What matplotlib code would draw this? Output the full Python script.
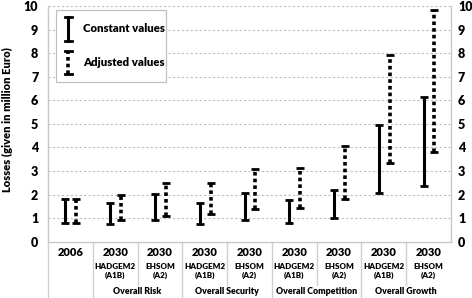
import matplotlib
matplotlib.use("Agg")
import matplotlib.pyplot as plt
from matplotlib.patches import Rectangle
from matplotlib.lines import Line2D
from matplotlib.transforms import blended_transform_factory

plt.rcParams['font.family'] = ['Lato', 'DejaVu Sans']
plt.rcParams['font.weight'] = 'heavy'
W = 'heavy'

years = ["2006", "2030", "2030", "2030", "2030", "2030", "2030", "2030", "2030"]
models = ["", "HADGEM2\n(A1B)", "EHSOM\n(A2)", "HADGEM2\n(A1B)", "EHSOM\n(A2)",
          "HADGEM2\n(A1B)", "EHSOM\n(A2)", "HADGEM2\n(A1B)", "EHSOM\n(A2)"]
groups = ["Overall Risk", "Overall Security", "Overall Competition", "Overall Growth"]

const_low = [0.81, 0.75, 0.91, 0.75, 0.92, 0.81, 1.01, 2.06, 2.38]
const_high = [1.82, 1.66, 2.04, 1.66, 2.06, 1.75, 2.21, 4.94, 6.13]
adj_low = [0.81, 0.91, 1.11, 1.16, 1.39, 1.42, 1.80, 3.34, 3.79]
adj_high = [1.82, 2.00, 2.47, 2.47, 3.09, 3.13, 4.04, 7.90, 9.83]

yticks = list(range(0, 11))

fig = plt.figure(figsize=(4.72, 2.98), dpi=100)
ax = fig.add_axes([0.1017, 0.189, 0.8538, 0.791])

n = len(years)
xs = list(range(n))
off_c = -0.11
off_a = 0.13
xc = [x + off_c for x in xs]
xa = [x + off_a for x in xs]

# constant values (solid)
ax.vlines(xc, const_low, const_high, colors='black', linewidth=2.2, zorder=3)
ax.plot(xc, const_low, linestyle='none', marker='_', markersize=6, mew=2.0, color='black', zorder=3)
ax.plot(xc, const_high, linestyle='none', marker='_', markersize=6, mew=2.0, color='black', zorder=3)
# adjusted values (dotted)
ax.vlines(xa, adj_low, adj_high, colors='black', linewidth=2.6, linestyles=[(0, (1.0, 0.85))], zorder=3)
ax.plot(xa, adj_low, linestyle='none', marker='_', markersize=6, mew=2.0, color='black', zorder=3)
ax.plot(xa, adj_high, linestyle='none', marker='_', markersize=6, mew=2.0, color='black', zorder=3)

ax.set_xlim(-0.5, n - 0.5)
ax.set_ylim(0, 10)
ax.set_yticks(yticks)
ax.set_yticklabels([str(t) for t in yticks], fontsize=9, fontweight=W)
ax.tick_params(axis='y', length=0, pad=7)
ax.set_xticks([])
for t in yticks[1:]:
    ax.axhline(t, color='#bdbdbd', linewidth=0.8, linestyle=(0, (2, 2)), zorder=1)
for s in ['left', 'right', 'bottom']:
    ax.spines[s].set_color('#c8c8c8')
    ax.spines[s].set_linewidth(1.0)
ax.spines['top'].set_visible(False)

ax2 = ax.twinx()
ax2.set_ylim(0, 10)
ax2.set_yticks(yticks)
ax2.set_yticklabels([str(t) for t in yticks], fontsize=9, fontweight=W)
ax2.tick_params(axis='y', length=0, pad=5)
for s in ax2.spines.values():
    s.set_visible(False)

ax.set_ylabel("Losses (given in million Euro)", fontsize=8, fontweight=W)
ax.yaxis.set_label_coords(-0.088, 0.52)

# category labels
tr = blended_transform_factory(ax.transData, ax.transAxes)
for x, yl, ml in zip(xs, years, models):
    ax.text(x, -0.045, yl, transform=tr, ha='center', va='center', fontsize=8, fontweight=W)
    if ml:
        ax.text(x, -0.125, ml, transform=tr, ha='center', va='center', fontsize=5.8,
                fontweight=W, linespacing=1.25)
for gi, g in enumerate(groups):
    ax.text(1.5 + 2 * gi, -0.21, g, transform=tr, ha='center', va='center', fontsize=6.3, fontweight=W)

# divider lines
for i in range(n):
    xb = i - 0.5
    long = (i % 2 == 1) or i == 0
    y_end = -0.238 if long else -0.185
    ax.add_line(Line2D([xb, xb], [0, y_end], transform=tr, color='#d0d0d0', linewidth=1.0, clip_on=False))

# legend
tl = ax.transAxes
ax.add_patch(Rectangle((0.02, 0.678), 0.273, 0.305, transform=tl, facecolor='white',
                       edgecolor='#c0c0c0', linewidth=0.9, zorder=4))
lx = 0.05
cw = 0.009
ax.add_line(Line2D([lx, lx], [0.853, 0.953], transform=tl, color='black', linewidth=2.2, zorder=5))
ax.add_line(Line2D([lx - cw, lx + cw], [0.953, 0.953], transform=tl, color='black', linewidth=2.0, zorder=5))
ax.add_line(Line2D([lx - cw, lx + cw], [0.853, 0.853], transform=tl, color='black', linewidth=2.0, zorder=5))
ax.add_line(Line2D([lx, lx], [0.71, 0.81], transform=tl, color='black', linewidth=2.6,
                   linestyle=(0, (1.0, 0.85)), zorder=5))
ax.add_line(Line2D([lx - cw, lx + cw], [0.81, 0.81], transform=tl, color='black', linewidth=2.0, zorder=5))
ax.add_line(Line2D([lx - cw, lx + cw], [0.71, 0.71], transform=tl, color='black', linewidth=2.0, zorder=5))
ax.text(0.087, 0.903, "Constant values", transform=tl, fontsize=8.2, fontweight=W, va='center', zorder=5)
ax.text(0.087, 0.76, "Adjusted values", transform=tl, fontsize=8.2, fontweight=W, va='center', zorder=5)

fig.savefig("out.png", dpi=100)
